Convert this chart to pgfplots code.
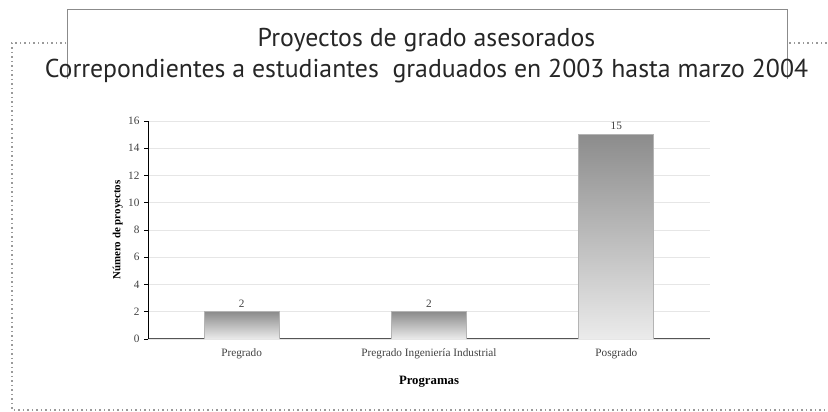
\documentclass[border=0pt]{standalone}
\usepackage{pgfplots}
\pgfplotsset{compat=1.18}
\usepackage{fontspec}
\setmainfont{Liberation Serif}
\newfontfamily\titlefont{PT Sans}
\definecolor{gridc}{HTML}{E6E6E6}
\definecolor{axisc}{HTML}{555555}
\definecolor{txtc}{HTML}{404040}
\definecolor{bartop}{HTML}{8C8C8C}
\definecolor{barbot}{HTML}{EBEBEB}
\definecolor{baredge}{HTML}{B4B4B4}
\definecolor{framec}{HTML}{9A9A9A}
\begin{document}
\begin{tikzpicture}
\useasboundingbox (0bp,0bp) rectangle (828bp,412bp);
\clip (0bp,0bp) rectangle (828bp,412bp);
% dotted outer frame
\draw[framec, line width=1.3bp, dash pattern=on 1.3bp off 3.2bp] (840bp,369bp) -- (12bp,369bp) -- (12bp,2bp) -- (840bp,2bp);
% axis
\begin{axis}[
  at={(148bp,73bp)}, anchor=south west,
  scale only axis, width=562bp, height=218bp,
  xmin=-0.5, xmax=2.5, ymin=0, ymax=16,
  ytick={0,2,...,16},
  xtick={0,1,2},
  xticklabels={Pregrado, Pregrado Ingeniería Industrial, Posgrado},
  extra x ticks={-0.5,0.5,1.5,2.5},
  extra x tick labels={},
  extra x tick style={major tick length=4bp, tick style={axisc, line width=0.6bp}, xtick pos=bottom, tick align=outside},
  x tick style={draw=none},
  major tick length=4bp,
  y tick style={black, line width=0.6bp},
  ytick pos=left, xtick pos=bottom, tick align=outside,
  axis x line*=bottom, axis y line*=left,
  x axis line style={axisc, line width=1bp},
  y axis line style={black, line width=1bp},
  ymajorgrids, grid style={gridc, line width=0.8bp},
  /pgf/number format/assume math mode=true,
  tick label style={font=\fontsize{11.3}{13}\selectfont, text=txtc},
  xticklabel style={yshift=-2bp},
  yticklabel style={xshift=-1bp},
  xlabel={\textbf{Programas}},
  ylabel={\textbf{Número de proyectos}},
  xlabel style={font=\fontsize{12.8}{15}\selectfont, at={(axis description cs:0.5,-0.197)}, anchor=center},
  ylabel style={font=\fontsize{11}{13}\selectfont, at={(axis description cs:-0.054,0.5)}, anchor=center},
  nodes near coords,
  nodes near coords style={font=\fontsize{11.3}{13}\selectfont, text=txtc, yshift=1bp},
]
\addplot[ybar, bar width=75bp, bar shift=0pt, draw=baredge, line width=0.8bp, top color=bartop, bottom color=barbot]
  coordinates {(0,2)};
\addplot[ybar, bar width=75bp, bar shift=0pt, draw=baredge, line width=0.8bp, top color=bartop, bottom color=barbot]
  coordinates {(1,2)};
\addplot[ybar, bar width=75bp, bar shift=0pt, draw=baredge, line width=0.8bp, top color=bartop, bottom color=barbot]
  coordinates {(2,15)};
\end{axis}
% title box (open at the bottom)
\fill[white] (67bp,333bp) rectangle (787bp,402bp);
\draw[framec!90!black, line width=1bp] (67bp,333bp) -- (67bp,402bp) -- (787bp,402bp) -- (787bp,333bp);
\node[font=\titlefont\fontsize{25.9}{30}\selectfont, anchor=base, text=black!85, inner sep=0pt] at (426.5bp,365bp) {Proyectos de grado asesorados};
\node[font=\titlefont\fontsize{25.9}{30}\selectfont, anchor=base, text=black!85, inner sep=0pt] at (426.5bp,334bp) {Correpondientes a estudiantes\ \ graduados en 2003 hasta marzo 2004};
\end{tikzpicture}
\end{document}
